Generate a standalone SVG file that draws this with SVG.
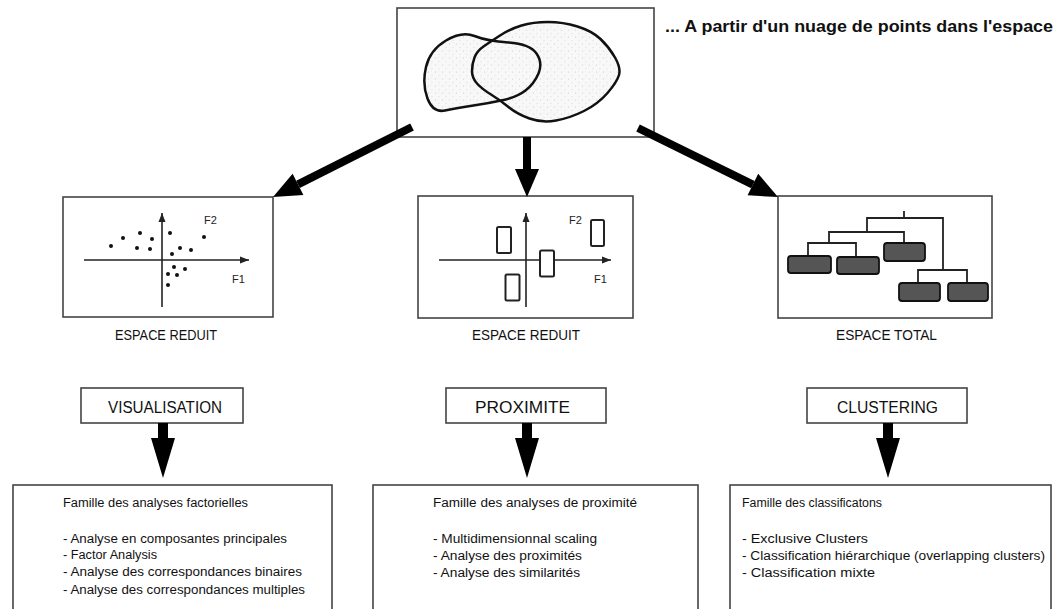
<svg xmlns="http://www.w3.org/2000/svg" width="1055" height="609" viewBox="0 0 1055 609">
<style>
.box{fill:#fff;stroke:#444;stroke-width:1.6}
.lbl{font-family:"Liberation Sans",Arial,sans-serif;font-size:14.5px;fill:#111}
.cat{font-family:"Liberation Sans",Arial,sans-serif;font-size:16px;fill:#111}
.body{font-family:"Liberation Sans",Arial,sans-serif;font-size:12.5px;fill:#111}
.ax{stroke:#222;stroke-width:1.6;fill:none}
.axt{font-family:"Liberation Sans",Arial,sans-serif;font-size:11px;fill:#222}
.dot{fill:#111}
.prx{fill:#fff;stroke:#222;stroke-width:2}
.tree{stroke:#222;stroke-width:1.8;fill:none}
.leaf{fill:#555;stroke:#111;stroke-width:1.8}
.big{stroke:#000;stroke-width:8;fill:none}
.blobline{fill:none;stroke:#111;stroke-width:2.5;stroke-linejoin:round}
</style>
<defs>
<pattern id="stip" width="7" height="7" patternUnits="userSpaceOnUse">
<rect width="7" height="7" fill="#f8f8f8"/>
<circle cx="1.5" cy="2" r="0.6" fill="#ccc"/>
<circle cx="5" cy="5.5" r="0.5" fill="#d4d4d4"/>
<circle cx="4.5" cy="1" r="0.4" fill="#ddd"/>
</pattern>
<marker id="ah" markerUnits="userSpaceOnUse" markerWidth="32" markerHeight="30" viewBox="0 -15 32 30" refX="0" refY="0" orient="auto" overflow="visible">
<path d="M0,-12 L28,0 L0,12 z" fill="#000"/>
</marker>
<marker id="sa" markerUnits="userSpaceOnUse" markerWidth="12" markerHeight="10" viewBox="0 -5 12 10" refX="9" refY="0" orient="auto" overflow="visible">
<path d="M0,-3.5 L9,0 L0,3.5 z" fill="#222"/>
</marker>
<path id="blobL" d="M426,67 Q430,50 446,40.5 Q462,31 474.5,36 Q487,41 508.5,42.5 Q530,44 536.5,53.5 Q543,63 538.5,73.5 Q534,84 525.5,90.5 Q517,97 503.5,100 Q490,103 473.5,105.5 Q457,108 445,110.5 Q433,113 427.5,98.5 Q422,84 426,67 Z"/>
<path id="blobR" d="M483.5,46.5 Q490,42 500,35.5 Q510,29 521.5,25.5 Q533,22 548,22 Q563,22 577.5,26.5 Q592,31 600.5,39 Q609,47 615,57.5 Q621,68 619,75 Q617,82 607.5,93 Q598,104 584,111 Q570,118 556,120.5 Q542,123 529.5,118.5 Q517,114 508.5,107 Q500,100 491,94.5 Q482,89 477,83.5 Q472,78 472,71 Q472,64 474.5,57.5 Q477,51 483.5,46.5 Z"/>
</defs>
<rect width="1055" height="609" fill="#fff"/>

<g id="source">
<rect class="box" x="397" y="8" width="257" height="129"/>
<use href="#blobL" fill="url(#stip)"/>
<use href="#blobR" fill="url(#stip)"/>
<use href="#blobL" class="blobline"/>
<use href="#blobR" class="blobline"/>
</g>

<g id="title">
<text x="665" y="32" font-family="'Liberation Sans',Arial,sans-serif" font-size="17" font-weight="bold" fill="#111" textLength="388" lengthAdjust="spacingAndGlyphs">... A partir d'un nuage de points dans l'espace</text>
</g>

<g id="espace-reduit-1">
<rect class="box" x="63" y="197" width="210" height="120"/>
<line class="ax" x1="84" y1="260" x2="249" y2="260" marker-end="url(#sa)"/>
<line class="ax" x1="162" y1="307" x2="162" y2="213" marker-end="url(#sa)"/>
<text class="axt" x="204" y="224">F2</text>
<text class="axt" x="232" y="283">F1</text>
<g class="dot">
<circle cx="111" cy="246" r="2"/><circle cx="123" cy="238" r="2"/><circle cx="140" cy="233" r="2"/><circle cx="152" cy="239" r="2"/>
<circle cx="137" cy="248" r="2"/><circle cx="150" cy="249" r="2"/><circle cx="170" cy="233" r="2"/><circle cx="204" cy="237" r="2"/>
<circle cx="180" cy="248" r="2"/><circle cx="191" cy="250" r="2"/><circle cx="172" cy="254" r="2"/><circle cx="174" cy="267" r="2"/>
<circle cx="185" cy="269" r="2"/><circle cx="168" cy="274" r="2"/><circle cx="177" cy="275" r="2"/><circle cx="168" cy="285" r="2"/>
</g>
<text class="lbl" x="115" y="340" textLength="102" lengthAdjust="spacingAndGlyphs">ESPACE REDUIT</text>
</g>

<g id="espace-reduit-2">
<rect class="box" x="418" y="196" width="215" height="122"/>
<line class="ax" x1="439" y1="260" x2="611" y2="260" marker-end="url(#sa)"/>
<line class="ax" x1="526" y1="307" x2="526" y2="213" marker-end="url(#sa)"/>
<text class="axt" x="569" y="224">F2</text>
<text class="axt" x="594" y="283">F1</text>
<rect class="prx" x="497" y="227" width="14" height="26" rx="1.5"/>
<rect class="prx" x="505.5" y="274.5" width="14" height="26" rx="1.5"/>
<rect class="prx" x="540" y="250.5" width="14" height="26" rx="1.5"/>
<rect class="prx" x="591" y="220" width="13" height="26" rx="1.5"/>
<text class="lbl" x="472" y="340" textLength="108" lengthAdjust="spacingAndGlyphs">ESPACE REDUIT</text>
</g>

<g id="espace-total">
<rect class="box" x="778" y="196" width="214" height="122"/>
<path class="tree" d="M904,211 V218 M867,232 V218 H943 V270 M829,243 V232 H904 V243 M808,256 V243 H856 V257 M918,283 V270 H967 V283"/>
<rect class="leaf" x="788" y="256" width="43" height="17" rx="3"/>
<rect class="leaf" x="837" y="257" width="42" height="17" rx="3"/>
<rect class="leaf" x="884" y="243" width="41" height="18" rx="3"/>
<rect class="leaf" x="899" y="283" width="41" height="18" rx="3"/>
<rect class="leaf" x="948" y="283" width="40" height="18" rx="3"/>
<text class="lbl" x="836" y="340" textLength="101" lengthAdjust="spacingAndGlyphs">ESPACE TOTAL</text>
</g>

<g id="visualisation">
<rect class="box" x="81" y="388" width="162" height="35"/>
<text class="cat" x="108" y="413" textLength="114" lengthAdjust="spacingAndGlyphs">VISUALISATION</text>
</g>
<g id="proximite">
<rect class="box" x="446" y="388" width="160" height="35"/>
<text class="cat" x="475" y="413" textLength="95" lengthAdjust="spacingAndGlyphs">PROXIMITE</text>
</g>
<g id="clustering">
<rect class="box" x="807" y="388" width="160" height="35"/>
<text class="cat" x="837" y="413" textLength="101" lengthAdjust="spacingAndGlyphs">CLUSTERING</text>
</g>

<g id="famille-factorielles">
<rect class="box" x="13" y="485" width="319" height="140"/>
<text class="body" x="63" y="507" textLength="185" lengthAdjust="spacingAndGlyphs">Famille des analyses factorielles</text>
<text class="body" x="63" y="543" textLength="224" lengthAdjust="spacingAndGlyphs">- Analyse en composantes principales</text>
<text class="body" x="63" y="559" textLength="94" lengthAdjust="spacingAndGlyphs">- Factor Analysis</text>
<text class="body" x="63" y="576" textLength="239" lengthAdjust="spacingAndGlyphs">- Analyse des correspondances binaires</text>
<text class="body" x="63" y="594" textLength="242" lengthAdjust="spacingAndGlyphs">- Analyse des correspondances multiples</text>
</g>
<g id="famille-proximite">
<rect class="box" x="373" y="485" width="325" height="140"/>
<text class="body" x="433" y="507" textLength="204" lengthAdjust="spacingAndGlyphs">Famille des analyses de proximité</text>
<text class="body" x="433" y="543" textLength="164" lengthAdjust="spacingAndGlyphs">- Multidimensionnal scaling</text>
<text class="body" x="433" y="560" textLength="149" lengthAdjust="spacingAndGlyphs">- Analyse des proximités</text>
<text class="body" x="433" y="577" textLength="147" lengthAdjust="spacingAndGlyphs">- Analyse des similarités</text>
</g>
<g id="famille-classifications">
<rect class="box" x="730" y="485" width="321" height="140"/>
<text class="body" x="742" y="507" textLength="140" lengthAdjust="spacingAndGlyphs">Famille des classificatons</text>
<text class="body" x="742" y="543" textLength="126" lengthAdjust="spacingAndGlyphs">- Exclusive Clusters</text>
<text class="body" x="742" y="560" textLength="303" lengthAdjust="spacingAndGlyphs">- Classification hiérarchique (overlapping clusters)</text>
<text class="body" x="742" y="577" textLength="133" lengthAdjust="spacingAndGlyphs">- Classification mixte</text>
</g>

<g id="connectors">
<line class="big" x1="412" y1="127" x2="298" y2="184.4" marker-end="url(#ah)"/>
<line class="big" x1="527" y1="137" x2="527" y2="169" marker-end="url(#ah)"/>
<line class="big" x1="638" y1="128" x2="752.9" y2="184.6" marker-end="url(#ah)"/>
<polygon points="158,423 168,423 168,438 175,438 163,478 151,438 158,438" fill="#000"/>
<polygon points="522,423 532,423 532,438 539,438 527,478 515,438 522,438" fill="#000"/>
<polygon points="883,423 893,423 893,438 900,438 888,478 876,438 883,438" fill="#000"/>
</g>
</svg>
